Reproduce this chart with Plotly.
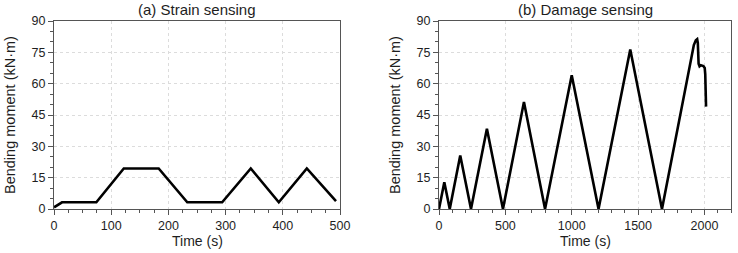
import plotly.graph_objects as go

# Panel (a) Strain sensing
time_a = [0, 14, 74, 122, 183, 233, 294, 344, 393, 442, 493]
moment_a = [0.8, 3.2, 3.2, 19.4, 19.4, 3.2, 3.2, 19.4, 3.2, 19.4, 3.8]

# Panel (b) Damage sensing
time_b = [0, 40, 81, 160, 241, 361, 482, 640, 799, 1000, 1202, 1441, 1680,
          1920, 1935, 1945, 1950, 1956, 1963, 1972, 1992, 2002, 2006, 2012]
moment_b = [0, 12.8, 0, 25.6, 0, 38.4, 0, 51.2, 0, 64.0, 0, 76.4, 0,
            78.5, 80.8, 81.3, 79.5, 69.5, 68.3, 68.8, 68.4, 67.5, 64.5, 49.0]

titles = ["(a) Strain sensing", "(b) Damage sensing"]
x_title = "Time (s)"
y_title = "Bending moment (kN·m)"
y_ticks = [0, 15, 30, 45, 60, 75, 90]
xb_ticks = [0, 500, 1000, 1500, 2000]

FONT = "Liberation Sans, Arial, sans-serif"
TXT = "#1e1e1e"
W, H = 738, 253

fig = go.Figure()
fig.add_trace(go.Scatter(x=time_a, y=moment_a, mode="lines", xaxis="x", yaxis="y",
                         line=dict(color="black", width=2.6), showlegend=False))
fig.add_trace(go.Scatter(x=time_b, y=moment_b, mode="lines", xaxis="x2", yaxis="y2",
                         line=dict(color="black", width=2.6), showlegend=False))

ydom = [(H - 209) / H, (H - 21) / H]
xdom_a = [54 / W, 340 / W]
xdom_b = [439 / W, 731 / W]

common_axis = dict(
    showline=True, linecolor="#555", linewidth=1, mirror=True,
    ticks="outside", ticklen=5, tickcolor="#555", tickwidth=1,
    showgrid=True, gridcolor="#dcdcdc", griddash="dot", gridwidth=1,
    zeroline=False, automargin=False,
    tickfont=dict(family=FONT, size=12.5, color=TXT),
)
minor_x = dict(ticks="outside", ticklen=3, tickcolor="#555", showgrid=False)

fig.update_layout(
    width=W, height=H,
    margin=dict(l=0, r=0, t=0, b=0),
    plot_bgcolor="white", paper_bgcolor="white",
    font=dict(family=FONT, color=TXT),
    xaxis=dict(domain=xdom_a, range=[0, 500], dtick=100, anchor="y",
               minor=dict(dtick=25, **minor_x), **common_axis),
    yaxis=dict(domain=ydom, range=[0, 90], tickvals=y_ticks, anchor="x",
               minor=dict(dtick=5, **minor_x), **common_axis),
    xaxis2=dict(domain=xdom_b, range=[0, 2200], tickvals=xb_ticks, anchor="y2",
                minor=dict(dtick=100, **minor_x), **common_axis),
    yaxis2=dict(domain=ydom, range=[0, 90], tickvals=y_ticks, anchor="x2",
                minor=dict(dtick=5, **minor_x), **common_axis),
)

ann = []
for i, dom in enumerate([xdom_a, xdom_b]):
    cx = (dom[0] + dom[1]) / 2
    ann.append(dict(text=titles[i], x=cx, y=(H - 9) / H, xref="paper", yref="paper",
                    showarrow=False, font=dict(family=FONT, size=15, color=TXT),
                    xanchor="center", yanchor="middle"))
    ann.append(dict(text=x_title, x=cx, y=(H - 241) / H, xref="paper", yref="paper",
                    showarrow=False, font=dict(family=FONT, size=14, color=TXT),
                    xanchor="center", yanchor="middle"))
for xc in (10, 395):
    ann.append(dict(text=y_title, x=xc / W, y=(ydom[0] + ydom[1]) / 2, xref="paper", yref="paper",
                    textangle=-90, showarrow=False, font=dict(family=FONT, size=14.5, color=TXT),
                    xanchor="center", yanchor="middle"))
fig.update_layout(annotations=ann)

fig.write_html("out.html", config={"displayModeBar": False},
               post_script="document.body.style.margin='0';")
